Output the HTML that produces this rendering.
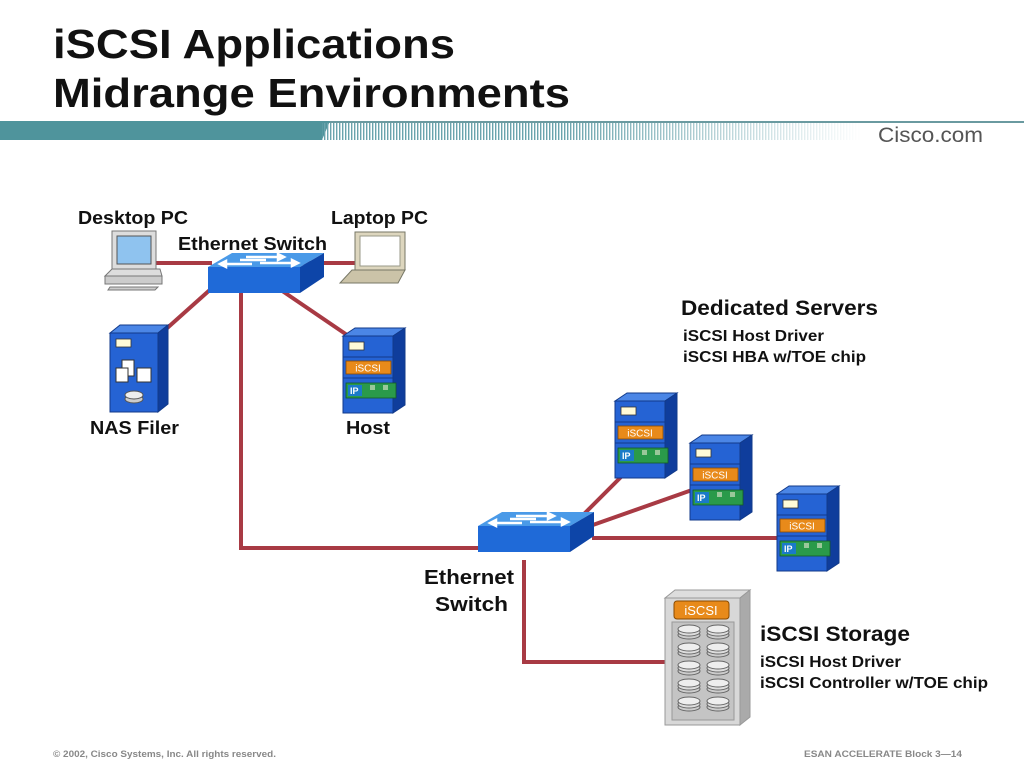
<!DOCTYPE html>
<html><head><meta charset="utf-8"><style>
body{margin:0;background:#fff}
svg text{font-family:"Liberation Sans",Arial,sans-serif;font-weight:bold}
</style></head><body>
<svg width="1024" height="768" viewBox="0 0 1024 768" xmlns="http://www.w3.org/2000/svg">
<defs>
<pattern id="st" width="3" height="10" patternUnits="userSpaceOnUse"><rect width="1.4" height="10" fill="#6aa4ad"/></pattern>
<linearGradient id="fade" x1="0" x2="1"><stop offset="0" stop-color="#fff" stop-opacity="0"/><stop offset="1" stop-color="#fff" stop-opacity="1"/></linearGradient>
<g id="srv">
<polygon points="0,8 12,0 62,0 50,8" fill="#4b86e6" stroke="#123a8a" stroke-width="1"/>
<polygon points="50,8 62,0 62,77 50,85" fill="#0f3d9c" stroke="#123a8a" stroke-width="1"/>
<rect x="0" y="8" width="50" height="77" fill="#2563d4" stroke="#123a8a" stroke-width="1"/>
<rect x="6" y="14" width="15" height="8" fill="#fffbd8" stroke="#333" stroke-width="0.8"/>
<line x1="0" y1="29" x2="50" y2="29" stroke="#123a8a"/>
<rect x="3" y="33" width="45" height="13" fill="#e88a1a" stroke="#8a4a00" stroke-width="0.8"/>
<text x="25" y="43.5" font-size="10" fill="#fff" text-anchor="middle" style="font-weight:normal">iSCSI</text>
<line x1="0" y1="50" x2="50" y2="50" stroke="#123a8a"/>
<rect x="3" y="55" width="50" height="15" fill="#2a9a4a" stroke="#155a25" stroke-width="0.8"/>
<rect x="5" y="57" width="14" height="11" fill="#1a7ac8"/>
<text x="7" y="66" font-size="9" fill="#fff">IP</text>
<rect x="27" y="57" width="5" height="5" fill="#9ac89a"/><rect x="40" y="57" width="5" height="5" fill="#9ac89a"/>
</g>
<g id="sw">
<polygon points="0,14 24,0 116,0 92,14" fill="#4a9ae8"/>
<polygon points="92,14 116,0 116,24 92,40" fill="#0d45a8"/>
<rect x="0" y="14" width="92" height="26" fill="#1f6ad8"/>
<g stroke="#fff" stroke-width="2.5" fill="#fff">
<line x1="38" y1="4" x2="70" y2="4"/><polygon points="70,1 76,4 70,7"/>
<line x1="52" y1="10" x2="84" y2="10"/><polygon points="84,7 90,10 84,13"/>
<line x1="32" y1="7" x2="58" y2="7"/>
<line x1="18" y1="11" x2="44" y2="11"/><polygon points="18,8 12,11 18,14"/>
</g>
</g>
<g id="disk"><ellipse cx="10" cy="10" rx="11" ry="4" fill="#ccc" stroke="#666"/><ellipse cx="10" cy="7" rx="11" ry="4" fill="#ddd" stroke="#666"/><ellipse cx="10" cy="4" rx="11" ry="4" fill="#eee" stroke="#666"/></g>
</defs>

<text x="53" y="58" font-size="41" fill="#111" textLength="402" lengthAdjust="spacingAndGlyphs">iSCSI Applications</text>
<text x="53" y="107" font-size="41" fill="#111" textLength="517" lengthAdjust="spacingAndGlyphs">Midrange Environments</text>
<rect x="0" y="121" width="1024" height="2" fill="#6a9aa0"/>
<polygon points="0,121 330,121 322,140 0,140" fill="#4f949c"/>
<rect x="322" y="123" width="540" height="17" fill="url(#st)"/>
<rect x="560" y="123" width="302" height="17" fill="url(#fade)"/>
<text x="878" y="142" font-size="21" fill="#555" style="font-weight:normal" textLength="105" lengthAdjust="spacingAndGlyphs">Cisco.com</text>

<g stroke="#a83a44" stroke-width="4" fill="none">
<line x1="155" y1="263" x2="212" y2="263"/>
<line x1="288" y1="263" x2="360" y2="263"/>
<polyline points="241,292 241,548 482,548"/>
<line x1="212" y1="288" x2="165" y2="330"/>
<line x1="275" y1="286" x2="350" y2="337"/>
<line x1="580" y1="518" x2="622" y2="476"/>
<line x1="590" y1="526" x2="692" y2="490"/>
<line x1="592" y1="538" x2="780" y2="538"/>
<polyline points="524,560 524,662 668,662"/>
</g>

<rect x="112" y="231" width="44" height="38" fill="#ddd" stroke="#777"/>
<rect x="117" y="236" width="34" height="28" fill="#8fc3ef" stroke="#555"/>
<polygon points="105,276 112,269 160,269 162,276" fill="#ddd" stroke="#777"/>
<rect x="105" y="276" width="57" height="8" fill="#ccc" stroke="#777"/>
<polygon points="110,287 158,287 155,290 108,290" fill="#ccc" stroke="#777"/>
<polygon points="355,232 405,232 405,270 355,270" fill="#ddd6be" stroke="#776"/>
<rect x="360" y="236" width="40" height="30" fill="#fff" stroke="#998"/>
<polygon points="352,270 405,270 398,283 340,283" fill="#cbc3a8" stroke="#776"/>

<use href="#sw" x="208" y="253"/>
<use href="#sw" x="478" y="512"/>

<polygon points="110,333 120,325 168,325 158,333" fill="#4b86e6" stroke="#123a8a"/>
<polygon points="158,333 168,325 168,404 158,412" fill="#0f3d9c" stroke="#123a8a"/>
<rect x="110" y="333" width="48" height="79" fill="#2563d4" stroke="#123a8a"/>
<rect x="116" y="339" width="15" height="8" fill="#fffbd8" stroke="#333" stroke-width="0.8"/>
<rect x="122" y="360" width="12" height="16" fill="#fff" stroke="#333"/><rect x="116" y="368" width="12" height="14" fill="#fff" stroke="#333"/><rect x="137" y="368" width="14" height="14" fill="#fff" stroke="#333"/>
<ellipse cx="134" cy="399" rx="9" ry="4" fill="#ccc" stroke="#555"/><ellipse cx="134" cy="395" rx="9" ry="4" fill="#eee" stroke="#555"/>

<use href="#srv" x="343" y="328"/>
<use href="#srv" x="615" y="393"/>
<use href="#srv" x="690" y="435"/>
<use href="#srv" x="777" y="486"/>

<polygon points="665,598 675,590 750,590 740,598" fill="#ddd" stroke="#999"/>
<polygon points="740,598 750,590 750,717 740,725" fill="#aaa" stroke="#999"/>
<rect x="665" y="598" width="75" height="127" fill="#d8d8d8" stroke="#999"/>
<rect x="674" y="601" width="55" height="18" rx="3" fill="#e88a1a" stroke="#8a4a00"/>
<text x="701" y="615" font-size="13" fill="#fff" text-anchor="middle" style="font-weight:normal">iSCSI</text>
<rect x="672" y="622" width="62" height="98" fill="#c4c4c4" stroke="#999"/>
<use href="#disk" x="679" y="625"/><use href="#disk" x="708" y="625"/>
<use href="#disk" x="679" y="643"/><use href="#disk" x="708" y="643"/>
<use href="#disk" x="679" y="661"/><use href="#disk" x="708" y="661"/>
<use href="#disk" x="679" y="679"/><use href="#disk" x="708" y="679"/>
<use href="#disk" x="679" y="697"/><use href="#disk" x="708" y="697"/>

<g fill="#111" style="" >
<text x="78" y="224" font-size="18" textLength="110" lengthAdjust="spacingAndGlyphs">Desktop PC</text>
<text x="331" y="224" font-size="18" textLength="97" lengthAdjust="spacingAndGlyphs">Laptop PC</text>
<text x="178" y="250" font-size="18" textLength="149" lengthAdjust="spacingAndGlyphs">Ethernet Switch</text>
<text x="90" y="434" font-size="18" textLength="89" lengthAdjust="spacingAndGlyphs">NAS Filer</text>
<text x="346" y="434" font-size="18" textLength="44" lengthAdjust="spacingAndGlyphs">Host</text>
<text x="681" y="315" font-size="21" textLength="197" lengthAdjust="spacingAndGlyphs">Dedicated Servers</text>
<text x="683" y="341" font-size="16" textLength="141" lengthAdjust="spacingAndGlyphs">iSCSI Host Driver</text>
<text x="683" y="362" font-size="16" textLength="183" lengthAdjust="spacingAndGlyphs">iSCSI HBA w/TOE chip</text>
<text x="424" y="584" font-size="20" textLength="90" lengthAdjust="spacingAndGlyphs">Ethernet</text>
<text x="435" y="611" font-size="20" textLength="73" lengthAdjust="spacingAndGlyphs">Switch</text>
<text x="760" y="641" font-size="21" textLength="150" lengthAdjust="spacingAndGlyphs">iSCSI Storage</text>
<text x="760" y="667" font-size="16" textLength="141" lengthAdjust="spacingAndGlyphs">iSCSI Host Driver</text>
<text x="760" y="688" font-size="16" textLength="228" lengthAdjust="spacingAndGlyphs">iSCSI Controller w/TOE chip</text>
</g>
<text x="53" y="757" font-size="9.5" fill="#888" textLength="223" lengthAdjust="spacingAndGlyphs">© 2002, Cisco Systems, Inc. All rights reserved.</text>
<text x="804" y="757" font-size="9.5" fill="#888" textLength="158" lengthAdjust="spacingAndGlyphs">ESAN ACCELERATE Block 3—14</text>
</svg>
</body></html>
